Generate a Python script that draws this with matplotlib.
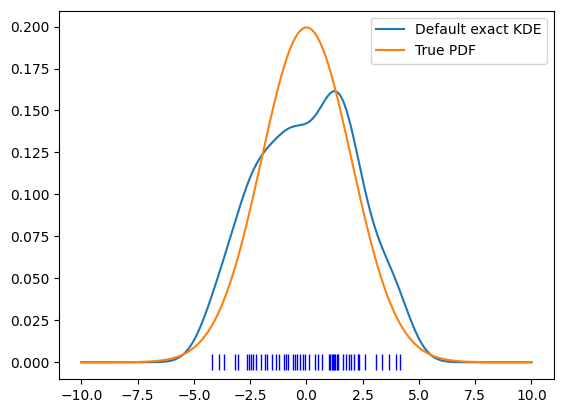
import matplotlib
matplotlib.use("Agg")
import matplotlib.pyplot as plt
import numpy as np

# 観測値 (rug から読み取り)
samples = [
    -4.21, -3.87, -3.65, -3.16, -3.04, -2.65, -2.56, -2.45, -2.39, -2.23,
    -2.00, -1.83, -1.75, -1.52, -1.34, -1.21, -1.00, -0.91, -0.82, -0.62,
    -0.51, -0.41, -0.30, -0.17, -0.05, 0.10, 0.36, 0.49, 0.71,
    1.00, 1.06, 1.12, 1.17, 1.22, 1.28, 1.35, 1.41, 1.63, 1.75, 1.90, 2.00,
    2.12, 2.27, 2.34, 2.61, 3.10, 3.35, 3.67, 3.98, 4.16,
]
bandwidth = 0.77
true_loc = 0.0
true_scale = 2.0
x_min, x_max = -10.0, 10.0

data = np.asarray(samples)
x = np.linspace(x_min, x_max, 400)

n = len(data)
kde = np.exp(-0.5 * ((x[:, None] - data[None, :]) / bandwidth) ** 2).sum(axis=1)
kde /= n * bandwidth * np.sqrt(2 * np.pi)

true_pdf = np.exp(-0.5 * ((x - true_loc) / true_scale) ** 2) / (true_scale * np.sqrt(2 * np.pi))

fig = plt.figure(figsize=(5.65, 4.13), dpi=100)
ax = fig.add_axes([0.1044, 0.0823, 0.8761, 0.8917])
ax.plot(x, kde, label="Default exact KDE")
ax.plot(x, true_pdf, label="True PDF")
ax.plot(data, np.zeros_like(data), "b|", markersize=12)
ax.legend(loc="best")

fig.savefig("out.png", dpi=100)
